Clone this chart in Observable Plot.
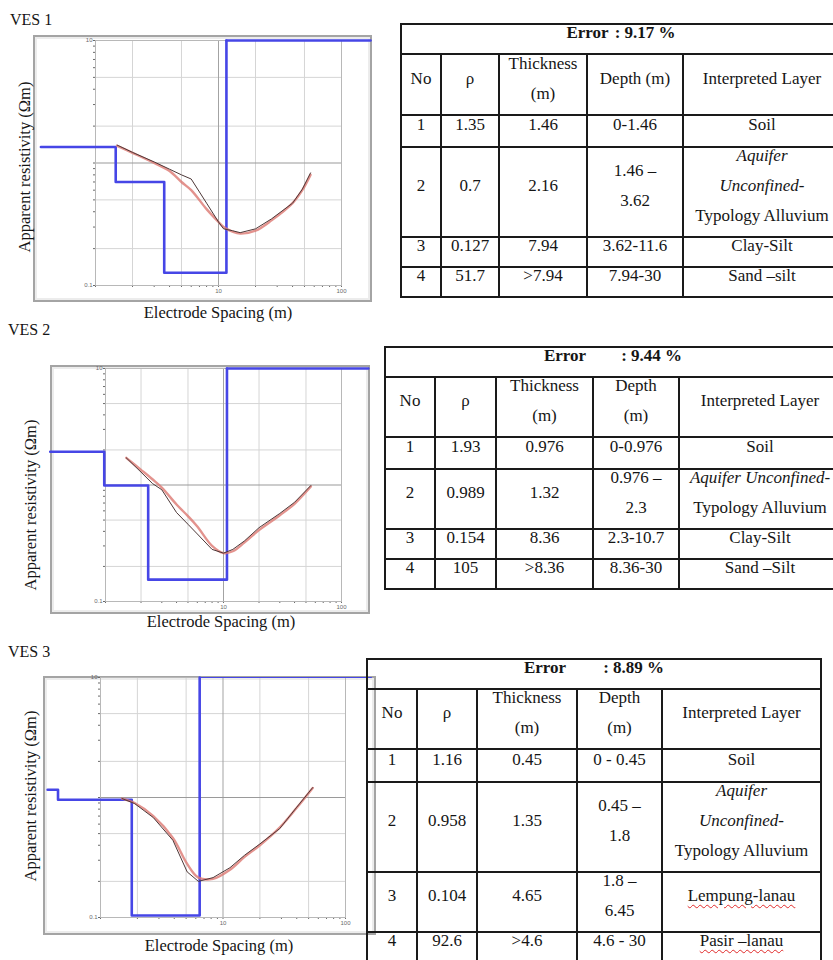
<!DOCTYPE html>
<html><head><meta charset="utf-8">
<script src="https://cdn.jsdelivr.net/npm/d3@7"></script>
<script src="https://cdn.jsdelivr.net/npm/@observablehq/plot@0.6"></script>
<style>
html,body{margin:0;padding:0;background:#fff;}
body{width:833px;height:960px;position:relative;overflow:hidden;font-family:"Liberation Serif","Times New Roman",serif;color:#151515;}
.ves{position:absolute;font-size:16px;line-height:1;white-space:nowrap;}
.frame{position:absolute;border:2px solid #a4a4a4;box-shadow:inset 0 0 0 2px #ececec;box-sizing:border-box;}
.ylab{position:absolute;font-size:16.5px;line-height:1;white-space:nowrap;transform:translate(-50%,-50%) rotate(-90deg);}
.xlab{position:absolute;font-size:16.5px;line-height:1;white-space:nowrap;transform:translate(-50%,-50%);}
.tl{position:absolute;background:#1a1a1a;}
.cell{position:absolute;display:flex;align-items:center;justify-content:center;text-align:center;font-size:17px;line-height:30px;white-space:nowrap;}
.cell .in{position:relative;top:-6px;}
.cell.bold{font-weight:bold;}
.sp{text-decoration:underline wavy #e02a2a;text-decoration-thickness:1px;text-underline-offset:3px;}
</style></head>
<body>
<script>
// ---------- shared axis values ----------
const xDomain = [1, 100];
const yDomain = [0.1, 10];
const xTickValues = [1,2,3,4,5,6,7,8,9,10,20,30,40,50,60,70,80,90,100];
const xTickLabels = [10, 100];
const yTickValues = [0.1,0.2,0.3,0.4,0.5,0.6,0.7,0.8,0.9,1,2,3,4,5,6,7,8,9,10];
const yTickLabels = [0.1, 10];
const gridXMinor = [2, 5, 20, 50];
const gridXMajor = [10];
const gridYMinor = [0.2, 0.5, 2, 5];
const gridYMajor = [1];

// ---------- VES 1 ----------
const ves1Spacing    = [1.5, 2, 3, 4, 5, 6, 8, 10, 11, 13, 15, 20, 27, 40, 48, 56];
const ves1Observed   = [1.40, 1.22, 1.02, 0.89, 0.80, 0.74, 0.47, 0.33, 0.29, 0.28, 0.27, 0.29, 0.35, 0.47, 0.61, 0.83];
const ves1Calculated = [1.38, 1.21, 1.00, 0.86, 0.70, 0.60, 0.42, 0.33, 0.30, 0.275, 0.265, 0.28, 0.34, 0.47, 0.60, 0.80];
const ves1Rho   = [1.35, 0.7, 0.127, 51.7];
const ves1Depth = [1.46, 3.62, 11.6];
const ves1Extent = [0.36, 172];

// ---------- VES 2 ----------
const ves2Spacing    = [1.5, 2, 2.5, 3, 4, 5, 6, 8, 10, 12, 15, 20, 30, 40, 55];
const ves2Observed   = [1.71, 1.29, 1.03, 0.91, 0.58, 0.46, 0.38, 0.28, 0.26, 0.28, 0.33, 0.43, 0.57, 0.71, 0.99];
const ves2Calculated = [1.71, 1.35, 1.12, 0.95, 0.68, 0.54, 0.44, 0.30, 0.26, 0.27, 0.32, 0.41, 0.55, 0.69, 0.97];
const ves2Rho   = [1.93, 0.989, 0.154, 105];
const ves2Depth = [0.976, 2.3, 10.7];
const ves2Extent = [0.34, 169];

// ---------- VES 3 ----------
const ves3Spacing    = [1.5, 1.9, 2.7, 3.9, 5.1, 6.3, 8.3, 11.4, 15, 20, 29, 40, 54];
const ves3Observed   = [0.98, 0.89, 0.68, 0.44, 0.24, 0.20, 0.215, 0.26, 0.33, 0.41, 0.55, 0.83, 1.21];
const ves3Calculated = [0.98, 0.90, 0.70, 0.46, 0.28, 0.215, 0.21, 0.25, 0.32, 0.40, 0.56, 0.82, 1.20];
const ves3Rho   = [1.16, 0.958, 0.104, 92.6];
const ves3Depth = [0.45, 1.8, 6.45];
const ves3Extent = [0.37, 163];

// ---------- texts ----------
const vesTitles = ["VES 1", "VES 2", "VES 3"];
const xTitle = "Electrode Spacing (m)";
const yTitle = "Apparent resistivity (Ωm)";
const errorLabel = "Error";
const errorValues = [": 9.17 %", ": 9.44 %", ": 8.89 %"];

const t1Header = ["No", "ρ", "Thickness\n(m)", "Depth (m)", "Interpreted Layer"];
const t1No     = ["1", "2", "3", "4"];
const t1Rho    = ["1.35", "0.7", "0.127", "51.7"];
const t1Thick  = ["1.46", "2.16", "7.94", ">7.94"];
const t1Depth  = ["0-1.46", "1.46 –\n3.62", "3.62-11.6", "7.94-30"];
const t1Layer  = ["Soil", "_Aquifer_\n_Unconfined-_\nTypology Alluvium", "Clay-Silt", "Sand –silt"];

const t2Header = ["No", "ρ", "Thickness\n(m)", "Depth\n(m)", "Interpreted Layer"];
const t2No     = ["1", "2", "3", "4"];
const t2Rho    = ["1.93", "0.989", "0.154", "105"];
const t2Thick  = ["0.976", "1.32", "8.36", ">8.36"];
const t2Depth  = ["0-0.976", "0.976 –\n2.3", "2.3-10.7", "8.36-30"];
const t2Layer  = ["Soil", "_Aquifer Unconfined-_\nTypology Alluvium", "Clay-Silt", "Sand –Silt"];

const t3Header = ["No", "ρ", "Thickness\n(m)", "Depth\n(m)", "Interpreted Layer"];
const t3No     = ["1", "2", "3", "4"];
const t3Rho    = ["1.16", "0.958", "0.104", "92.6"];
const t3Thick  = ["0.45", "1.35", "4.65", ">4.6"];
const t3Depth  = ["0 - 0.45", "0.45 –\n1.8", "1.8 –\n6.45", "4.6 - 30"];
const t3Layer  = ["Soil", "_Aquifer_\n_Unconfined-_\nTypology Alluvium", "~Lempung-lanau~", "~Pasir –lanau~"];

// ---------- layout ----------
const layouts = [
  {title:[10,12], frame:[33,35,372,302], plot:[95,40,341,285], xlab:[218,313], ylab:[25,167], gap:6, topWidth:2.6,
   cols:[401,441,499,587,683,841], rows:[24,54,115,147,237,267,297]},
  {title:[8,322], frame:[50,365,370,614], plot:[105,368,341,601], xlab:[221,622], ylab:[31,505], gap:35, topWidth:2.6,
   cols:[385,435,496,593,679,841], rows:[347,377,437,469,529,559,589]},
  {title:[8,644], frame:[43,676,376,935], plot:[100,677,345,917], xlab:[219,946], ylab:[31,796], gap:37, topWidth:1,
   cols:[367,417,477,577,662,821], rows:[659,689,749,782,872,932,962]}
];

const charts = [
  {spacing:ves1Spacing, obs:ves1Observed, calc:ves1Calculated, rho:ves1Rho, depth:ves1Depth, extent:ves1Extent},
  {spacing:ves2Spacing, obs:ves2Observed, calc:ves2Calculated, rho:ves2Rho, depth:ves2Depth, extent:ves2Extent},
  {spacing:ves3Spacing, obs:ves3Observed, calc:ves3Calculated, rho:ves3Rho, depth:ves3Depth, extent:ves3Extent}
];
const tables = [
  {header:t1Header, cols:[t1No,t1Rho,t1Thick,t1Depth,t1Layer]},
  {header:t2Header, cols:[t2No,t2Rho,t2Thick,t2Depth,t2Layer]},
  {header:t3Header, cols:[t3No,t3Rho,t3Thick,t3Depth,t3Layer]}
];

function el(cls, css, html) {
  const d = document.createElement("div");
  d.className = cls;
  Object.assign(d.style, css);
  if (html != null) d.innerHTML = html;
  document.body.appendChild(d);
  return d;
}
function esc(s){return s.replace(/&/g,"&amp;").replace(/</g,"&lt;").replace(/>/g,"&gt;");}
function fmt(s) {
  return s.split("\n").map(line => esc(line)
    .replace(/_([^_]+)_/g, "<i>$1</i>")
    .replace(/~([^~]+)~/g, '<span class="sp">$1</span>')).join("<br>");
}

function drawChart(L, d) {
  const [fl, ft, fr, fb] = L.frame;
  const [pl, pt, pr, pb] = L.plot;
  el("frame", {left: fl+"px", top: ft+"px", width: (fr-fl)+"px", height: (fb-ft)+"px"});
  // layered model: steps through the layers, then the last layer's top segment
  const stepX = [d.extent[0], ...d.depth];
  const stepY = [...d.rho];
  const steps = stepX.map((x, i) => ({x, y: stepY[i]}));
  const last = d.rho[d.rho.length-1];
  const topSeg = [{x: d.depth[d.depth.length-1], y: last}, {x: d.extent[1], y: last}];
  const pts = d.spacing.map((s, i) => ({s, obs: d.obs[i], calc: d.calc[i]}));
  const W = fr - fl, H = fb - ft;
  const svg = Plot.plot({
    width: W, height: H,
    marginLeft: pl - fl, marginRight: fr - pr, marginTop: pt - ft, marginBottom: fb - pb,
    style: {position: "absolute", left: fl+"px", top: ft+"px", background: "transparent",
            overflow: "visible", fontSize: "6px", fontFamily: "Liberation Sans, sans-serif", color: "#6a6a6a"},
    x: {type: "log", domain: xDomain, ticks: xTickValues, tickFormat: v => xTickLabels.includes(v) ? String(v) : "",
        tickSize: 2, tickPadding: 1, label: null},
    y: {type: "log", domain: yDomain, clamp: true, ticks: yTickValues,
        tickFormat: v => yTickLabels.includes(v) ? String(v) : "", tickSize: 2, tickPadding: 1, label: null},
    marks: [
      Plot.ruleX(gridXMinor, {stroke: "#d5d5d5", strokeWidth: 1}),
      Plot.ruleY(gridYMinor, {stroke: "#d5d5d5", strokeWidth: 1}),
      Plot.ruleX(gridXMajor, {stroke: "#a3a3a3", strokeWidth: 1}),
      Plot.ruleY(gridYMajor, {stroke: "#9a9a9a", strokeWidth: 1.2}),
      Plot.frame({stroke: "#b8b8b8"}),
      Plot.line(steps, {x: "x", y: "y", curve: "step-after", stroke: "#4646e6", strokeWidth: 2.6}),
      Plot.line(topSeg, {x: "x", y: "y", stroke: "#4646e6", strokeWidth: L.topWidth}),
      Plot.line(pts, {x: "s", y: "calc", curve: "catmull-rom", stroke: "#dc7872", strokeWidth: 2.4, strokeOpacity: 0.8}),
      Plot.line(pts, {x: "s", y: "obs", stroke: "#4d3838", strokeWidth: 1})
    ]
  });
  document.body.appendChild(svg);
}

function drawTable(L, T, k) {
  const c = L.cols, r = L.rows;
  const x0 = c[0], x1 = c[c.length-1], y0 = r[0], y1 = r[r.length-1];
  r.forEach(y => el("tl", {left: (x0-1)+"px", top: (y-1)+"px", width: (x1-x0+2)+"px", height: "2px"}));
  [x0, x1].forEach(x => el("tl", {left: (x-1)+"px", top: (y0-1)+"px", width: "2px", height: (y1-y0+2)+"px"}));
  c.slice(1, -1).forEach(x => el("tl", {left: (x-1)+"px", top: (r[1]-1)+"px", width: "2px", height: (y1-r[1]+2)+"px"}));
  el("cell bold", {left: x0+"px", top: y0+"px", width: (x1-x0)+"px", height: (r[1]-y0)+"px"},
     `<span class="in">${errorLabel}<span style="display:inline-block;width:${L.gap}px"></span>${esc(errorValues[k])}</span>`);
  T.header.forEach((h, j) => el("cell", {left: c[j]+"px", top: r[1]+"px", width: (c[j+1]-c[j])+"px", height: (r[2]-r[1])+"px"},
     `<span class="in">${fmt(h)}</span>`));
  for (let i = 0; i < 4; i++) {
    T.cols.forEach((col, j) => el("cell", {left: c[j]+"px", top: r[i+2]+"px", width: (c[j+1]-c[j])+"px", height: (r[i+3]-r[i+2])+"px"},
      `<span class="in">${fmt(col[i])}</span>`));
  }
}

layouts.forEach((L, k) => {
  el("ves", {left: L.title[0]+"px", top: L.title[1]+"px"}, vesTitles[k]);
  drawChart(L, charts[k]);
  el("xlab", {left: L.xlab[0]+"px", top: L.xlab[1]+"px"}, xTitle);
  el("ylab", {left: L.ylab[0]+"px", top: L.ylab[1]+"px"}, yTitle);
  drawTable(L, tables[k], k);
});
</script>
</body></html>
